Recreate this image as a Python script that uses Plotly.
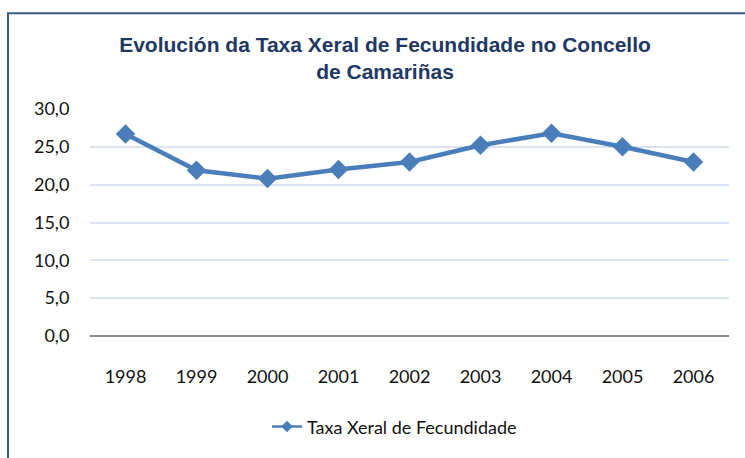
import plotly.graph_objects as go

years = ["1998", "1999", "2000", "2001", "2002", "2003", "2004", "2005", "2006"]
taxa = [26.7, 21.9, 20.8, 22.0, 23.0, 25.2, 26.8, 25.0, 23.0]
y_ticks = [0, 5, 10, 15, 20, 25, 30]
y_tick_labels = ["0,0", "5,0", "10,0", "15,0", "20,0", "25,0", "30,0"]
series_name = "Taxa Xeral de Fecundidade"
title_text = "Evolución da Taxa Xeral de Fecundidade no Concello<br>de Camariñas"

W, H = 745, 458
L, R, T, B = 90, 16, 109, 119
pw, ph = W - L - R, H - T - B

def px_x(x):
    return (x - L) / pw

def px_y(y):
    return (H - B - y) / ph

BLUE = "#4A7EBB"
fig = go.Figure()
fig.add_trace(go.Scatter(
    x=years, y=taxa, name=series_name, mode="lines+markers", showlegend=False,
    line=dict(color=BLUE, width=4.5),
    marker=dict(symbol="diamond", size=15, color=BLUE),
))
# legend entry (thinner line / smaller marker as in the reference legend)
fig.add_trace(go.Scatter(
    x=[None], y=[None], name=series_name, mode="lines+markers",
    line=dict(color=BLUE, width=2.5),
    marker=dict(symbol="diamond", size=9, color=BLUE),
))

fig.update_layout(
    width=W, height=H,
    margin=dict(l=L, r=R, t=T, b=B),
    paper_bgcolor="white", plot_bgcolor="white",
    title=dict(text=title_text, x=px_x(385), xref="paper", xanchor="center",
               y=1 - 52 / H, yanchor="middle",
               font=dict(family="Liberation Sans", size=21, color="#1F3864", weight="bold")),
    xaxis=dict(type="category", showgrid=False, showline=False,
               ticks="outside", ticklen=24, tickcolor="rgba(0,0,0,0)",
               tickfont=dict(family="Lato", size=18, color="#111111"),
               range=[-0.5, 8.5], fixedrange=True, automargin=False),
    yaxis=dict(range=[0, 30], tickvals=y_ticks, ticktext=y_tick_labels,
               showgrid=True, gridcolor="#DCE4EF", gridwidth=2,
               zeroline=True, zerolinecolor="#868686", zerolinewidth=2,
               showline=False, ticks="outside", ticklen=16, tickcolor="rgba(0,0,0,0)",
               tickfont=dict(family="Lato", size=18, color="#111111"), automargin=False),
    legend=dict(orientation="h", x=px_x(267), xanchor="left", y=px_y(431), yanchor="middle",
                font=dict(family="Lato", size=18, color="#111111"), bgcolor="rgba(0,0,0,0)"),
    showlegend=True,
    shapes=[dict(type="rect", xref="paper", yref="paper",
                 x0=px_x(8), x1=px_x(760), y0=px_y(480), y1=px_y(12),
                 line=dict(color="#3B5A84", width=2), fillcolor="rgba(0,0,0,0)", layer="below")],
)

fig.write_html("out.html", config={"displayModeBar": False},
               post_script="document.body.style.margin='0px';")
